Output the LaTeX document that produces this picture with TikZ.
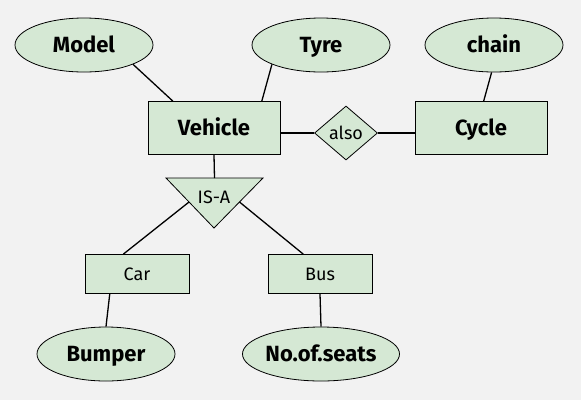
\documentclass[tikz,border=0pt]{standalone}
\usepackage{fontspec}
\setmainfont{Fira Sans}
\usetikzlibrary{positioning,calc,shapes.geometric}

\definecolor{attrgreen}{RGB}{213,232,212}
\definecolor{bggray}{RGB}{242,242,242}

\begin{document}
\begin{tikzpicture}[x=1pt, y=-1pt,
    every node/.style={fill=attrgreen, draw, line width=0.8pt, inner sep=0pt, text depth=0pt},
    attr/.style={ellipse, minimum width=138pt, minimum height=54pt, text height=15pt, font=\fontsize{22}{24}\selectfont\bfseries},
    entity/.style={rectangle, minimum width=132pt, minimum height=53pt, text height=15pt, font=\fontsize{22}{24}\selectfont\bfseries},
    subentity/.style={rectangle, minimum width=104pt, minimum height=39pt, text height=12.4pt, font=\fontsize{18}{20}\selectfont},
    rel/.style={diamond, minimum width=63pt, minimum height=54pt, text height=12.4pt, font=\fontsize{18}{20}\selectfont},
    link/.style={line width=1.3pt}]
            \fill[bggray] (0,0) rectangle (581,400);
            \useasboundingbox (0,0) rectangle (581,400);

            \node[attr] (model) at (84,45) {Model};
            \node[attr] (tyre) at (321,45) {Tyre};
            \node[attr] (chain) at (494,45) {chain};

            \node[entity] (vehicle) at (214,128) {Vehicle};
            \node[entity] (cycle) at (481,128) {Cycle};
            \node[rel] (also) at (346,133) {also};

            % IS-A triangle
            \coordinate (isaL) at (166,178);
            \coordinate (isaR) at (263,178);
            \coordinate (isaB) at (214,228);
            \filldraw[fill=attrgreen, line width=0.8pt] (isaL) -- (isaR) -- (isaB) -- cycle;
            \node[draw=none, fill=none, text height=12.4pt, font=\fontsize{18}{20}\selectfont] (isa) at (214,197) {IS-A};
            \coordinate (isaT) at ($(isaL)!0.5!(isaR)$);
            \coordinate (isaCar) at ($(isaL)!0.48!(isaB)$);
            \coordinate (isaBus) at ($(isaR)!0.48!(isaB)$);

            \node[subentity] (car) at (137,274) {Car};
            \node[subentity] (bus) at (320,274) {Bus};

            \node[attr] (bumper) at (106,354) {Bumper};
            \node[attr] (seats) at (321,354) {No.of.seats};

            \draw[link] (model.south east) -- ($(vehicle.north west)!0.19!(vehicle.north east)$);
            \draw[link] (tyre.south west) -- ($(vehicle.north west)!0.86!(vehicle.north east)$);
            \draw[link] (chain.-95) -- ($(cycle.north west)!0.52!(cycle.north east)$);
            \draw[link] (also.west) -- (also.west -| vehicle.east);
            \draw[link] (also.east) -- (also.east -| cycle.west);
            \draw[link] (vehicle.south) -- (isaT);
            \draw[link] (isaCar) -- ($(car.north west)!0.37!(car.north east)$);
            \draw[link] (isaBus) -- ($(bus.north west)!0.34!(bus.north east)$);
            \draw[link] ($(car.south west)!0.24!(car.south east)$) -- (bumper.north);
            \draw[link] (bus.south) -- (seats.north);
        \end{tikzpicture}
\end{document}
